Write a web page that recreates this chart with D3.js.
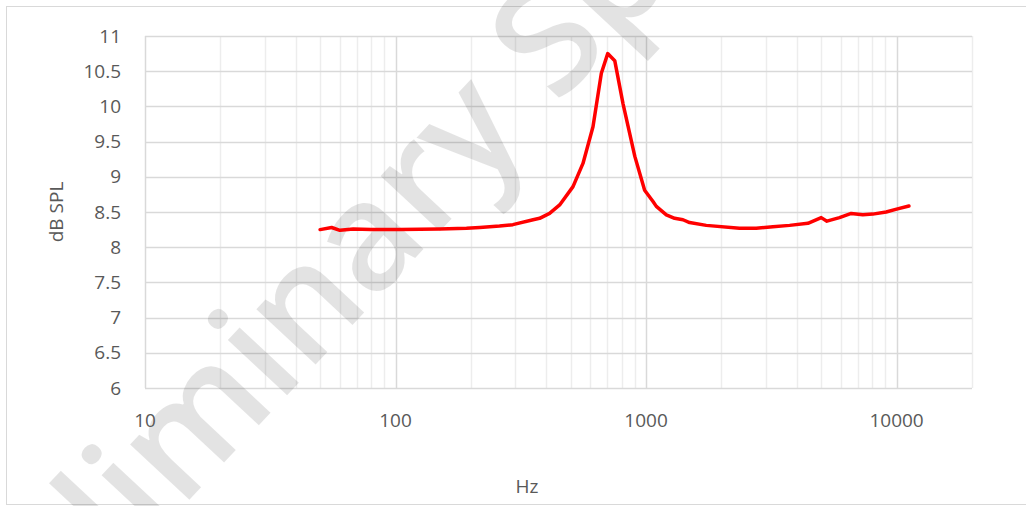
<!DOCTYPE html>
<html lang="en">
<head>
  <meta charset="UTF-8">
  <title>dB SPL vs Hz</title>
  <style>
    html, body {
      background-color: #ffffff;
      margin: 0;
    }
    svg {
      display: block;
      font-family: "Open Sans", sans-serif;
    }
    .tick-label {
      fill: #595959;
      font-size: 19px;
    }
  </style>
</head>
<body>
  <svg class="chart" width="1026" height="506"></svg>

  <script src="https://cdnjs.cloudflare.com/ajax/libs/d3/7.8.5/d3.min.js"></script>
  <script>
    // values
    const freqs = [50, 55.6, 60, 67.8, 80, 104, 150, 192, 217, 260, 294, 354, 376, 412, 452, 511, 560, 614, 663, 703, 750, 809, 902, 987, 1066, 1099, 1205, 1300, 1404, 1492, 1739, 2360, 2752, 3209, 3740, 4427, 5003, 5271, 5916, 6590, 7331, 8035, 9084, 10000, 11200];
    const splValues = [8.25, 8.28, 8.24, 8.26, 8.25, 8.25, 8.26, 8.27, 8.28, 8.30, 8.32, 8.39, 8.41, 8.48, 8.60, 8.86, 9.19, 9.71, 10.47, 10.75, 10.65, 10.04, 9.29, 8.81, 8.65, 8.58, 8.46, 8.41, 8.39, 8.35, 8.31, 8.27, 8.27, 8.29, 8.31, 8.34, 8.42, 8.37, 8.42, 8.48, 8.46, 8.47, 8.50, 8.54, 8.585];
    const xTickLabels = [10, 100, 1000, 10000];
    const yTickLabels = [6, 6.5, 7, 7.5, 8, 8.5, 9, 9.5, 10, 10.5, 11];

    const plot = { left: 145, right: 972, top: 36, bottom: 388 };

    const svg = d3.select('.chart');

    const x = d3.scaleLog().domain([10, 20000]).range([plot.left, plot.right]);
    const y = d3.scaleLinear().domain([6, 11]).range([plot.bottom, plot.top]);

    // outer chart frame
    svg.append('rect')
      .attr('x', 6.5).attr('y', 6.5)
      .attr('width', 1040).attr('height', 498)
      .attr('fill', 'none')
      .attr('stroke', '#d9d9d9');

    const grid = svg.append('g');

    // minor vertical gridlines (2..9 of each decade)
    const minorTicks = x.ticks().filter(t => !xTickLabels.includes(t));
    grid.selectAll('line.minor')
      .data(minorTicks)
      .join('line')
      .attr('class', 'minor')
      .attr('x1', d => Math.round(x(d)) + 0.5).attr('x2', d => Math.round(x(d)) + 0.5)
      .attr('y1', plot.top).attr('y2', plot.bottom)
      .attr('stroke', '#ededed')
      .attr('stroke-width', 1.5);

    grid.selectAll('line.major-x')
      .data(xTickLabels)
      .join('line')
      .attr('class', 'major-x')
      .attr('x1', d => Math.round(x(d)) + 0.5).attr('x2', d => Math.round(x(d)) + 0.5)
      .attr('y1', plot.top).attr('y2', plot.bottom)
      .attr('stroke', '#d9d9d9')
      .attr('stroke-width', 1.5);

    grid.selectAll('line.major-y')
      .data(yTickLabels)
      .join('line')
      .attr('class', 'major-y')
      .attr('x1', plot.left).attr('x2', plot.right)
      .attr('y1', d => Math.round(y(d)) + 0.5).attr('y2', d => Math.round(y(d)) + 0.5)
      .attr('stroke', '#d9d9d9')
      .attr('stroke-width', 1.5);

    // watermark
    svg.append('text')
      .attr('transform', 'translate(-42,748) rotate(-47)')
      .attr('font-size', 150)
      .attr('font-weight', 600)
      .attr('fill', '#000')
      .attr('fill-opacity', 0.11)
      .text('Preliminary Specification');

    // axis tick labels
    svg.append('g')
      .selectAll('text')
      .data(yTickLabels)
      .join('text')
      .attr('class', 'tick-label')
      .attr('x', 121)
      .attr('y', d => y(d))
      .attr('dy', '0.35em')
      .attr('text-anchor', 'end')
      .text(d => d);

    svg.append('g')
      .selectAll('text')
      .data(xTickLabels)
      .join('text')
      .attr('class', 'tick-label')
      .attr('x', d => x(d))
      .attr('y', 420)
      .attr('dy', '0.35em')
      .attr('text-anchor', 'middle')
      .text(d => d);

    svg.append('text')
      .attr('class', 'tick-label')
      .attr('x', 527)
      .attr('y', 486)
      .attr('dy', '0.35em')
      .attr('text-anchor', 'middle')
      .text('Hz');

    svg.append('text')
      .attr('class', 'tick-label')
      .attr('transform', 'translate(56,212) rotate(-90)')
      .attr('dy', '0.35em')
      .attr('text-anchor', 'middle')
      .text('dB SPL');

    // response curve
    const line = d3.line()
      .x((d, i) => x(freqs[i]))
      .y(d => y(d));

    svg.append('path')
      .datum(splValues)
      .attr('d', line)
      .attr('fill', 'none')
      .attr('stroke', '#ff0000')
      .attr('stroke-width', 3.5)
      .attr('stroke-linejoin', 'round')
      .attr('stroke-linecap', 'round');
  </script>
</body>
</html>
